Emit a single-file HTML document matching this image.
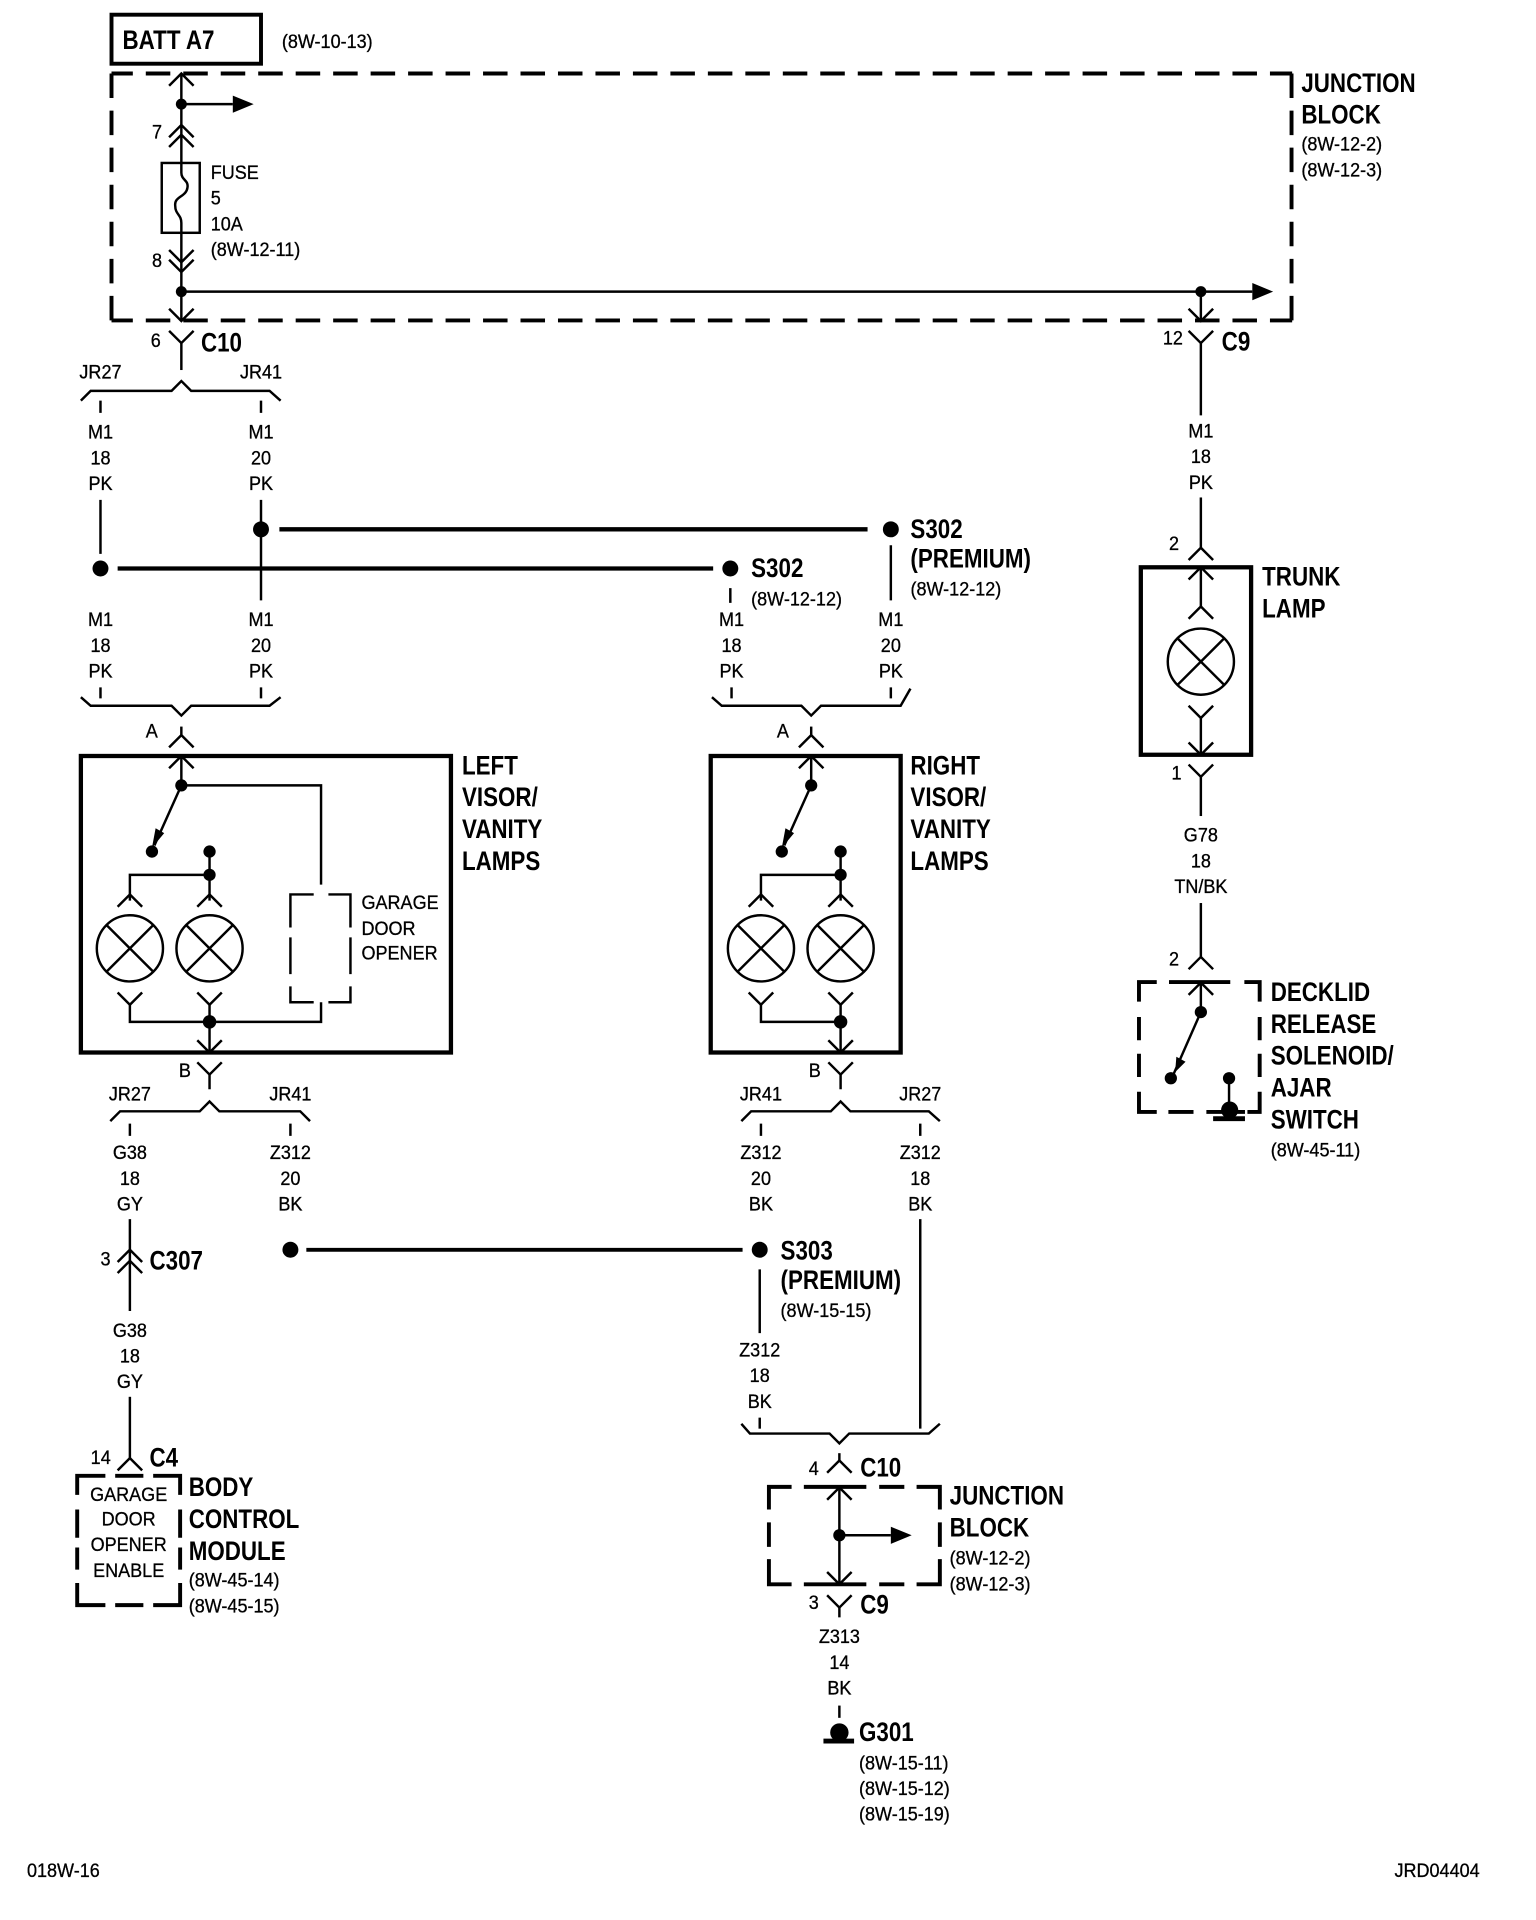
<!DOCTYPE html>
<html><head><meta charset="utf-8"><style>
html,body{margin:0;padding:0;background:#fff}
svg{display:block}
text{font-family:"Liberation Sans",sans-serif;fill:#000;transform-box:fill-box}
.n{font-size:16px;stroke:#000;stroke-width:.25;transform-origin:left center;transform:translateY(-1px) scaleX(.92)}
.m{font-size:16px;stroke:#000;stroke-width:.25;text-anchor:middle;transform-origin:center;transform:translateY(-1px) scaleX(.92)}
.b{font-size:22px;font-weight:bold;transform-origin:left center;transform:scaleX(.83)}
.w{fill:none;stroke:#000;stroke-width:2}
.h{fill:none;stroke:#000;stroke-width:3.5}
.t{fill:none;stroke:#000;stroke-width:3.2}
.dh{fill:none;stroke:#000;stroke-width:3.2;stroke-dasharray:20 10.58;stroke-dashoffset:2.6}
.dv{fill:none;stroke:#000;stroke-width:3.2;stroke-dasharray:20 10.25}
</style></head><body>
<svg width="1536" height="1920" viewBox="0 0 1253.5 1567" preserveAspectRatio="none" xmlns="http://www.w3.org/2000/svg">
<defs>
<path id="u" d="M-10 10L0 0L10 10" fill="none" stroke="#000" stroke-width="2"/>
<path id="v" d="M-10 -10L0 0L10 -10" fill="none" stroke="#000" stroke-width="2"/>
<g id="ar"><path d="M0 -7L17 0L0 7Z" fill="#000"/></g>
<g id="lamp"><circle r="27" fill="none" stroke="#000" stroke-width="2"/><path d="M-19 -19L19 19M-19 19L19 -19" stroke="#000" stroke-width="2"/></g>
</defs>

<!-- top -->
<rect x="91" y="12" width="122" height="40" class="t"/>
<text x="100" y="40" class="b">BATT A7</text>
<text x="230" y="40" class="n">(8W-10-13)</text>
<path class="dh" d="M91 60H1054.5M91 261.5H1054.5"/>
<path class="dv" d="M91 60V262M1054 60V262"/>
<text x="1062" y="75" class="b">JUNCTION</text>
<text x="1062" y="101" class="b">BLOCK</text>
<text x="1062" y="124" class="n">(8W-12-2)</text>
<text x="1062" y="145" class="n">(8W-12-3)</text>
<path class="w" d="M148 60V133M148 182V262M148 85H190M148 238H1022M148 133V141C148 147 154 147 153 153C152 161 142 160 143 168C143 175 148 175 148 182"/>
<use href="#u" x="148" y="60"/><circle cx="148" cy="85" r="4.5"/><use href="#ar" x="190" y="85"/>
<use href="#u" x="148" y="102"/><use href="#u" x="148" y="110"/>
<text x="124" y="114" class="n">7</text>
<rect x="132" y="133" width="31" height="57" class="w"/>
<text x="172" y="147" class="n">FUSE</text>
<text x="172" y="168" class="n">5</text>
<text x="172" y="189" class="n">10A</text>
<text x="172" y="210" class="n">(8W-12-11)</text>
<text x="124" y="219" class="n">8</text>
<use href="#v" x="148" y="214"/><use href="#v" x="148" y="222"/>
<circle cx="148" cy="238" r="4.5"/><use href="#ar" x="1022" y="238"/>
<circle cx="980" cy="238" r="4.5"/>
<path class="w" d="M980 238V262"/>
<use href="#v" x="148" y="262"/><use href="#v" x="980" y="262"/>
<use href="#v" x="148" y="280"/><path class="w" d="M148 280V302"/>
<text x="123" y="284" class="n">6</text>
<text x="164" y="287" class="b">C10</text>
<use href="#v" x="980" y="280"/><path class="w" d="M980 280V339"/>
<text x="949" y="282" class="n">12</text>
<text x="997" y="286" class="b">C9</text>

<!-- trunk -->
<text x="980" y="358" class="m">M1</text><text x="980" y="379" class="m">18</text><text x="980" y="400" class="m">PK</text>
<path class="w" d="M980 406V447"/><use href="#u" x="980" y="447"/>
<text x="954" y="450" class="n">2</text>
<rect x="931" y="463" width="90" height="153" class="h"/>
<text x="1030" y="478" class="b">TRUNK</text><text x="1030" y="504" class="b">LAMP</text>
<path class="w" d="M980 463V495M980 585V616"/>
<use href="#u" x="980" y="463"/><use href="#u" x="980" y="495"/>
<use href="#lamp" x="980" y="540"/>
<use href="#v" x="980" y="586"/><use href="#v" x="980" y="616"/>
<text x="956" y="637" class="n">1</text>
<use href="#v" x="980" y="634"/><path class="w" d="M980 634V666"/>
<text x="980" y="688" class="m">G78</text><text x="980" y="709" class="m">18</text><text x="980" y="730" class="m">TN/BK</text>
<path class="w" d="M980 737V781"/><use href="#u" x="980" y="781"/>
<text x="954" y="789" class="n">2</text>
<path class="t" d="M929.5 817.5V801.5H944M954 801.5H1004M1015.5 801.5H1028V817.5M1028 830V849M1028 860V879M1028 891V907.5H1018M1016 907.5H984.5M974 907.5H953.5M944 907.5H929.5V891M929.5 879V860M929.5 849V830"/>
<use href="#u" x="980" y="802"/>
<path class="w" d="M980 802V826L958 876"/>
<circle cx="980" cy="826" r="5"/><circle cx="955.5" cy="880" r="5"/>
<path d="M959 875L960 862.5L967.5 866.5Z"/>
<circle cx="1003" cy="880" r="5"/><path class="w" d="M1003 881V905"/>
<circle cx="1003.5" cy="906" r="7"/><path d="M990 911H1016V915H990Z"/>
<text x="1037" y="817" class="b">DECKLID</text><text x="1037" y="843" class="b">RELEASE</text><text x="1037" y="869" class="b">SOLENOID/</text><text x="1037" y="895" class="b">AJAR</text><text x="1037" y="921" class="b">SWITCH</text>
<text x="1037" y="945" class="n">(8W-45-11)</text>

<!-- upper left splices -->
<text x="82" y="310" class="m">JR27</text><text x="213" y="310" class="m">JR41</text>
<path class="w" d="M66 327L74 319H140L148 311L156 319H220L229 327"/>
<path class="w" d="M82 327V337M213 327V337"/>
<text x="82" y="359" class="m">M1</text><text x="82" y="380" class="m">18</text><text x="82" y="401" class="m">PK</text>
<text x="213" y="359" class="m">M1</text><text x="213" y="380" class="m">20</text><text x="213" y="401" class="m">PK</text>
<path class="w" d="M82 408V452M213 408V490M727 445V490M596 480V492"/>
<circle cx="82" cy="464" r="6.5"/><circle cx="213" cy="432" r="6.5"/><circle cx="596" cy="464" r="6.5"/><circle cx="727" cy="432" r="6.5"/>
<path class="h" stroke-width="4" d="M96 464H582M228 432H708"/>
<text x="613" y="471" class="b">S302</text><text x="613" y="495" class="n">(8W-12-12)</text>
<text x="743" y="439" class="b">S302</text><text x="743" y="463" class="b">(PREMIUM)</text><text x="743" y="487" class="n">(8W-12-12)</text>
<text x="82" y="512" class="m">M1</text><text x="82" y="533" class="m">18</text><text x="82" y="554" class="m">PK</text>
<text x="213" y="512" class="m">M1</text><text x="213" y="533" class="m">20</text><text x="213" y="554" class="m">PK</text>
<text x="597" y="512" class="m">M1</text><text x="597" y="533" class="m">18</text><text x="597" y="554" class="m">PK</text>
<text x="727" y="512" class="m">M1</text><text x="727" y="533" class="m">20</text><text x="727" y="554" class="m">PK</text>
<path class="w" d="M82 561V570M213 561V570M597 561V570M727 561V570"/>
<path class="w" d="M66 569L74 576H140L148 584L156 576H220L229 569"/>
<path class="w" d="M581 569L589 576H654L662 584L670 576H735L743 562"/>

<!-- left visor -->
<text x="119" y="603" class="n">A</text>
<path class="w" d="M148 593V601"/><use href="#u" x="148" y="600"/>
<rect x="66" y="617" width="302" height="242" class="h"/>
<text x="377" y="632" class="b">LEFT</text><text x="377" y="658" class="b">VISOR/</text><text x="377" y="684" class="b">VANITY</text><text x="377" y="710" class="b">LAMPS</text>
<use href="#u" x="148" y="617"/>
<path class="w" d="M148 617V641H262V722M148 641L126 690M171 695V735M171 714H106V735M106 820V834H262V818M171 820V859"/>
<circle cx="148" cy="641" r="5"/><circle cx="124" cy="695" r="5"/><circle cx="171" cy="695" r="5"/><circle cx="171" cy="714" r="5"/>
<path d="M124 692L127 676L134 680Z"/>
<use href="#u" x="106" y="730"/><use href="#u" x="171" y="730"/>
<use href="#lamp" x="106" y="774"/><use href="#lamp" x="171" y="774"/>
<use href="#v" x="106" y="820"/><use href="#v" x="171" y="820"/>
<circle cx="171" cy="834" r="5.5"/><use href="#v" x="171" y="859"/>
<path class="w" d="M256 730H237V757M237 765V795M237 805V818H256M268 818H286V805M286 795V765M286 757V730H268"/>
<text x="295" y="743" class="n">GARAGE</text><text x="295" y="764" class="n">DOOR</text><text x="295" y="784" class="n">OPENER</text>

<text x="146" y="880" class="n">B</text>
<use href="#v" x="171" y="877"/><path class="w" d="M171 877V889"/>
<text x="106" y="899" class="m">JR27</text><text x="237" y="899" class="m">JR41</text>
<path class="w" d="M90 915L98 907H163L171 899L179 907H245L253 915"/>
<path class="w" d="M106 917V927M237 917V927"/>
<text x="106" y="947" class="m">G38</text><text x="106" y="968" class="m">18</text><text x="106" y="989" class="m">GY</text>
<text x="237" y="947" class="m">Z312</text><text x="237" y="968" class="m">20</text><text x="237" y="989" class="m">BK</text>
<path class="w" d="M106 995V1070"/>
<use href="#u" x="106" y="1020"/><use href="#u" x="106" y="1029"/>
<text x="82" y="1034" class="n">3</text><text x="122" y="1036" class="b">C307</text>
<text x="106" y="1092" class="m">G38</text><text x="106" y="1113" class="m">18</text><text x="106" y="1134" class="m">GY</text>
<path class="w" d="M106 1140V1190"/><use href="#u" x="106" y="1190"/>
<text x="74" y="1196" class="n">14</text><text x="122" y="1197" class="b">C4</text>
<path class="t" d="M63 1220V1204.5H86M94 1204.5H117M125 1204.5H147V1220M147 1232V1255M147 1263V1281M147 1292V1310H125M117 1310H94M86 1310H63V1292M63 1281V1263M63 1255V1232"/>
<text x="105" y="1226" class="m">GARAGE</text><text x="105" y="1246" class="m">DOOR</text><text x="105" y="1267" class="m">OPENER</text><text x="105" y="1288" class="m">ENABLE</text>
<text x="154" y="1221" class="b">BODY</text><text x="154" y="1247" class="b">CONTROL</text><text x="154" y="1273" class="b">MODULE</text>
<text x="154" y="1296" class="n">(8W-45-14)</text><text x="154" y="1317" class="n">(8W-45-15)</text>

<circle cx="237" cy="1020" r="6.5"/><circle cx="620" cy="1020" r="6.5"/>
<path class="t" d="M250 1020H606"/>
<text x="637" y="1028" class="b">S303</text><text x="637" y="1052" class="b">(PREMIUM)</text><text x="637" y="1076" class="n">(8W-15-15)</text>
<path class="w" d="M620 1036V1088M751 995V1166"/>

<!-- right visor -->
<text x="634" y="603" class="n">A</text>
<path class="w" d="M662 593V601"/><use href="#u" x="662" y="600"/>
<rect x="580" y="617" width="155" height="242" class="h"/>
<text x="743" y="632" class="b">RIGHT</text><text x="743" y="658" class="b">VISOR/</text><text x="743" y="684" class="b">VANITY</text><text x="743" y="710" class="b">LAMPS</text>
<use href="#u" x="662" y="617"/>
<path class="w" d="M662 617V641L640 690M686 695V735M686 714H621V735M621 820V834H686M686 820V859"/>
<circle cx="662" cy="641" r="5"/><circle cx="638" cy="695" r="5"/><circle cx="686" cy="695" r="5"/><circle cx="686" cy="714" r="5"/>
<path d="M638 692L641 676L648 680Z"/>
<use href="#u" x="621" y="730"/><use href="#u" x="686" y="730"/>
<use href="#lamp" x="621" y="774"/><use href="#lamp" x="686" y="774"/>
<use href="#v" x="621" y="820"/><use href="#v" x="686" y="820"/>
<circle cx="686" cy="834" r="5.5"/><use href="#v" x="686" y="859"/>
<text x="660" y="880" class="n">B</text>
<use href="#v" x="686" y="877"/><path class="w" d="M686 877V889"/>
<text x="621" y="899" class="m">JR41</text><text x="751" y="899" class="m">JR27</text>
<path class="w" d="M605 915L613 907H678L686 899L694 907H758L767 915"/>
<path class="w" d="M621 917V927M751 917V927"/>
<text x="621" y="947" class="m">Z312</text><text x="621" y="968" class="m">20</text><text x="621" y="989" class="m">BK</text>
<text x="751" y="947" class="m">Z312</text><text x="751" y="968" class="m">18</text><text x="751" y="989" class="m">BK</text>
<text x="620" y="1108" class="m">Z312</text><text x="620" y="1129" class="m">18</text><text x="620" y="1150" class="m">BK</text>
<path class="w" d="M620 1157V1166"/>
<path class="w" d="M605 1162L612 1170H677L685 1178L693 1170H758L767 1162"/>

<!-- bottom junction -->
<text x="660" y="1205" class="n">4</text><text x="702" y="1205" class="b">C10</text>
<path class="w" d="M685 1186V1192"/><use href="#u" x="685" y="1192"/>
<path class="t" d="M627.5 1232V1213.5H646M656 1213.5H707M717.5 1213.5H738M748 1213.5H767V1232M767 1242.5V1262.5M767 1272.5V1293H748M738 1293H717.5M707 1293H656M646 1293H627.5V1272.5M627.5 1262.5V1242.5"/>
<use href="#u" x="685" y="1214"/>
<path class="w" d="M685 1214V1293M685 1253H727"/>
<circle cx="685" cy="1253" r="5"/><use href="#ar" x="727" y="1253"/><use href="#v" x="685" y="1293"/>
<text x="775" y="1228" class="b">JUNCTION</text><text x="775" y="1254" class="b">BLOCK</text>
<text x="775" y="1278" class="n">(8W-12-2)</text><text x="775" y="1299" class="n">(8W-12-3)</text>
<text x="660" y="1314" class="n">3</text><text x="702" y="1317" class="b">C9</text>
<use href="#v" x="685" y="1312"/><path class="w" d="M685 1312V1320"/>
<text x="685" y="1342" class="m">Z313</text><text x="685" y="1363" class="m">14</text><text x="685" y="1384" class="m">BK</text>
<path class="w" d="M685 1392V1402"/>
<circle cx="685" cy="1414" r="7.5"/><path d="M672 1419H697V1423H672Z"/>
<text x="701" y="1421" class="b">G301</text>
<text x="701" y="1445" class="n">(8W-15-11)</text><text x="701" y="1466" class="n">(8W-15-12)</text><text x="701" y="1487" class="n">(8W-15-19)</text>

<text x="22" y="1533" class="n">018W-16</text>
<text x="1138" y="1533" class="n">JRD04404</text>
</svg>
</body></html>
